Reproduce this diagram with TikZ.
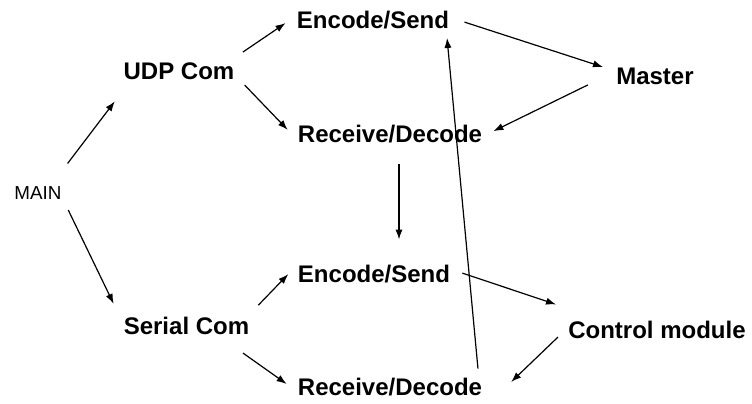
\documentclass[tikz,border=0pt]{standalone}
\usepackage{fontspec}
\setmainfont{Liberation Sans}
\usetikzlibrary{arrows.meta}

\begin{document}
\begin{tikzpicture}[
      x=0.5pt, y=-0.5pt,
      lbl/.style={inner sep=0pt, font=\fontsize{12}{14}\selectfont\bfseries,
                  text height=8.6pt, text depth=0pt},
      mainlbl/.style={inner sep=0pt, font=\fontsize{9.4}{11}\selectfont,
                  text height=6.8pt, text depth=0pt},
      arr/.style={-{Latex[length=5pt, width=3.6pt]}, line width=0.6pt}
    ]
    \useasboundingbox (0,0) rectangle (752,403);
    \node[mainlbl] (main) at (38,192.5) {MAIN};
    \node[lbl] (udp) at (179,70.5) {UDP Com};
    \node[lbl] (serial) at (186.5,326) {Serial Com};
    \node[lbl] (enc1) at (373,20) {Encode/Send};
    \node[lbl] (rec1) at (390,133.5) {Receive/Decode};
    \node[lbl] (master) at (655,76) {Master};
    \node[lbl] (enc2) at (374,273.5) {Encode/Send};
    \node[lbl] (rec2) at (390,386.5) {Receive/Decode};
    \node[lbl] (ctrl) at (657,329.5) {Control module};
    \draw[arr, shorten <=13.7pt, shorten >=13.7pt] ([xshift=6.5pt]main.north) -- ([xshift=-23.8pt]udp.south);
    \draw[arr, shorten <=7.3pt, shorten >=11.2pt] ([yshift=-2.2pt]main.east) -- ([yshift=1pt]serial.west);
    \draw[arr, shorten <=8.4pt, shorten >=6.7pt] ([xshift=25pt]udp.north) -- ([yshift=2.2pt]enc1.west);
    \draw[arr, shorten <=7.1pt, shorten >=7.1pt] ([yshift=-2.1pt]udp.east) -- ([yshift=-3.3pt]rec1.west);
    \draw[arr, shorten <=7.9pt, shorten >=6.8pt] ([yshift=1.4pt]enc1.east) -- ([yshift=2.4pt]master.west);
    \draw[arr, shorten <=15.6pt, shorten >=6.1pt] ([yshift=2.4pt]master.west) -- ([yshift=-1.5pt]rec1.east);
    \draw[arr, shorten <=10.5pt, shorten >=12.5pt] ([xshift=4.5pt]rec1.south) -- ([xshift=12.5pt]enc2.north);
    \draw[arr, shorten <=4.5pt, shorten >=4.5pt] ([xshift=44.4pt]rec2.north) -- ([xshift=36.6pt]enc1.south);
    \draw[arr, shorten <=6.3pt, shorten >=25.3pt] ([yshift=2.2pt]enc2.east) -- ([xshift=-26.5pt]ctrl.north);
    \draw[arr, shorten <=6.9pt, shorten >=3.3pt] ([yshift=1pt]ctrl.west) -- ([xshift=12pt]rec2.east);
    \draw[arr, shorten <=8.2pt, shorten >=6.7pt] ([xshift=30.2pt]serial.north) -- (enc2.north west);
    \draw[arr, shorten <=15.6pt, shorten >=6.7pt] ([xshift=15.5pt]serial.south) -- ([yshift=-2.6pt]rec2.west);
  \end{tikzpicture}
\end{document}
